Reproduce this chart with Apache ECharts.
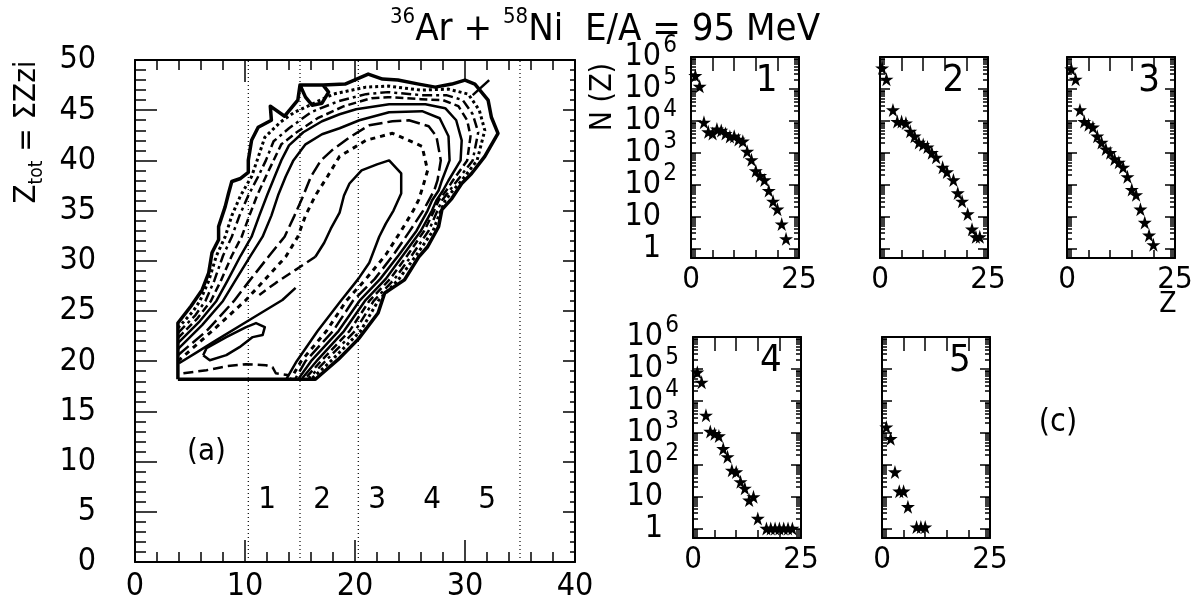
<!DOCTYPE html>
<html>
<head>
<meta charset="utf-8">
<script src="https://cdn.jsdelivr.net/npm/echarts@6.0.0/dist/echarts.min.js"></script>
<style>
  html, body { margin: 0; padding: 0; background: #fff; }
  #chart { width: 1200px; height: 606px; }
</style>
</head>
<body>
<div id="chart"></div>
<script>
const FONT = "'Liberation Sans Narrow','DejaVu Sans Condensed','Liberation Sans',sans-serif";

// ---- panel (a): contour lines of Z_tot vs Z ----
const contour1 = [[3.9,18.2],[3.9,23.8],[5.1,25.5],[6.1,27.1],[6.7,28.8],[7.0,30.8],[7.6,32.1],[7.6,33.4],[8.2,35.4],[8.5,36.7],[8.8,37.9],[9.6,38.2],[10.3,38.8],[10.3,40.0],[10.6,42.0],[11.2,43.3],[12.4,44.0],[12.3,45.4],[13.6,44.4],[14.8,46.0],[15.0,47.5],[17.1,47.5],[17.6,46.8],[17.0,45.7],[16.1,45.5],[15.5,46.3],[15.0,47.5],[17.1,47.5],[19.1,47.6],[21.2,48.6],[22.5,48.1],[23.9,48.0],[25.8,47.6],[27.3,47.3],[28.8,47.6],[30.0,48.0],[30.9,47.6],[32.1,46.0],[32.4,44.3],[33.0,42.7],[31.8,40.4],[30.6,38.7],[29.7,37.7],[28.8,36.2],[27.9,35.1],[27.6,33.4],[26.6,31.4],[25.8,30.4],[24.5,28.1],[22.7,26.8],[22.1,24.8],[20.3,22.2],[18.5,20.2],[16.4,18.2],[3.9,18.2]];
const contour1Spike = [[30.7,46.5],[32.2,48.0]];
const contour2 = [[3.9,23.3],[5.3,25.0],[5.9,26.0],[6.7,28.0],[7.4,30.5],[8.2,32.4],[8.8,34.5],[9.6,36.5],[10.6,38.4],[11.1,40.0],[11.8,42.3],[13.2,43.8],[14.5,44.8],[15.5,45.3],[18.0,46.6],[21.0,47.3],[23.0,47.4],[26.0,47.0],[28.5,47.1],[30.3,46.6],[31.3,45.0],[31.8,43.0],[31.1,40.0],[29.7,38.0],[28.9,37.0],[28.2,36.0],[27.8,35.0],[27.1,33.0],[25.6,30.6],[24.0,28.2],[22.1,26.0],[20.5,23.0],[17.8,20.0],[16.1,18.3]];
const contour3 = [[3.9,22.8],[5.5,24.6],[6.4,26.0],[7.2,28.0],[8.0,30.5],[8.8,32.4],[9.5,34.5],[10.3,36.5],[11.2,38.4],[11.9,40.0],[12.6,41.9],[14.0,43.2],[16.0,44.8],[18.5,45.9],[21.0,46.6],[23.0,46.8],[26.0,46.5],[28.3,46.5],[29.8,46.0],[30.7,44.6],[31.2,42.8],[30.7,40.0],[29.3,38.0],[28.6,37.0],[27.9,36.0],[27.5,35.0],[26.7,33.0],[25.2,30.6],[23.6,28.2],[21.7,26.0],[20.0,23.0],[17.3,20.0],[15.8,18.3]];
const contour4 = [[3.9,22.3],[5.7,24.3],[6.9,26.0],[7.8,28.0],[8.8,30.5],[9.7,32.4],[10.4,34.5],[11.1,36.5],[11.9,38.4],[12.6,40.0],[13.3,41.6],[14.7,42.8],[16.6,44.2],[19.0,45.4],[21.5,46.2],[23.0,46.3],[26.0,46.1],[28.0,46.0],[29.4,45.4],[30.2,44.0],[30.5,42.4],[30.2,40.0],[28.9,38.0],[28.3,37.0],[27.6,36.0],[27.2,35.0],[26.3,33.0],[24.8,30.6],[23.2,28.2],[21.3,26.0],[19.5,23.0],[16.9,20.0],[15.5,18.3]];
const contour5 = [[3.9,21.8],[5.9,24.0],[7.4,26.0],[8.4,28.0],[9.6,30.5],[10.6,32.4],[11.3,34.5],[12.0,36.5],[12.7,38.4],[13.3,40.0],[14.0,41.5],[15.3,42.8],[17.0,43.9],[18.6,44.6],[20.1,45.1],[23.1,45.6],[26.4,45.6],[28.2,45.2],[29.2,44.0],[29.7,42.0],[29.6,40.0],[28.5,38.0],[28.0,37.0],[27.4,36.0],[27.0,35.0],[26.0,33.0],[24.4,30.6],[22.8,28.2],[20.9,26.0],[19.0,23.0],[16.5,20.0],[15.2,18.3]];
const contour6 = [[3.9,21.2],[6.1,23.6],[8.0,26.0],[9.1,28.0],[10.5,30.5],[11.6,32.4],[12.4,34.5],[13.0,36.5],[13.7,38.4],[14.4,40.0],[15.5,41.6],[17.0,42.6],[18.6,43.2],[20.4,44.0],[23.1,44.8],[26.1,44.9],[27.7,44.2],[28.5,42.4],[28.6,40.0],[27.9,38.0],[27.6,37.0],[27.0,36.0],[26.6,35.0],[25.6,33.0],[24.0,30.6],[22.3,28.2],[20.4,26.0],[18.5,23.0],[16.0,20.0],[14.9,18.3]];
const contour7 = [[3.9,20.6],[6.5,23.0],[9.0,26.0],[10.4,28.0],[12.2,30.5],[13.6,32.4],[14.5,34.5],[15.3,36.5],[16.0,38.4],[16.9,40.0],[17.9,41.0],[19.5,42.3],[21.3,43.5],[23.4,43.9],[24.9,44.0],[26.7,43.4],[27.4,42.4],[27.8,40.0],[27.5,38.0],[27.2,37.0],[26.7,36.0],[26.2,35.0],[25.0,33.0],[23.5,30.6],[21.8,28.2],[19.8,26.0],[18.0,23.0],[15.5,20.0],[14.6,18.3]];
const contour8 = [[3.9,20.0],[7.0,23.0],[10.0,26.0],[11.7,28.0],[13.7,30.4],[14.8,32.4],[15.5,34.5],[16.4,36.5],[17.5,38.4],[18.6,40.4],[21.0,42.0],[23.4,42.7],[26.1,41.4],[26.6,39.0],[26.2,37.5],[25.8,36.1],[25.3,35.0],[24.2,33.0],[22.8,30.6],[21.0,28.2],[19.2,26.0],[17.4,23.0],[15.1,20.0],[14.2,18.3]];
const contour9 = [[16.4,30.4],[17.2,31.8],[17.8,33.2],[18.6,34.8],[19.0,36.5],[19.5,37.7],[20.6,39.0],[22.0,39.6],[23.1,40.0],[24.2,38.7],[24.2,36.7],[23.5,35.0],[22.8,33.7],[22.2,32.4],[21.3,29.8],[20.3,28.2],[18.7,26.0],[16.6,23.0],[14.7,20.0],[13.8,18.3]];
const contour9Tail = [[16.4,30.4],[14.6,29.1],[12.8,27.8],[11.3,26.6]];
const valleyLine = [[4.0,19.8],[5.5,20.8],[7.4,22.1],[10.4,24.1],[13.4,26.1],[14.6,27.3]];
const island = [[6.2,20.6],[6.5,21.3],[8.3,22.4],[10.1,23.4],[11.0,23.8],[11.8,23.4],[11.6,22.6],[10.7,22.4],[9.5,21.4],[8.3,20.6],[6.8,20.1],[6.2,20.6]];
const bottomDash = [[4.4,18.8],[6.5,19.1],[8.3,19.5],[10.1,19.7],[11.9,19.6],[12.5,19.4],[12.8,18.8],[14.0,18.6]];

const binEdges = [10.3, 15, 20.3, 35];
const binNames = ['1', '2', '3', '4', '5'];
const binNameX = [12, 17, 22, 27, 32];
const binNameY = 6.2;

// ---- panels (c): N(Z) per bin ----
const z1 = [1,2,3,4,5,6,7,8,9,10,11,12,13,14,15,16,17,18,19,20,21,22];
const n1 = [2.6e5,1.2e5,9e3,4.5e3,4e3,5.5e3,5e3,4e3,3.2e3,3.3e3,2.6e3,2.3e3,1.1e3,600,270,190,140,65,30,17,5.8,2];
const z2 = [0.5,1.5,3,4,5,6,7,8,9,10,11,12,13,14.5,15.5,17,18,19,20.3,21.3,22.2,23.1];
const n2 = [4.5e5,2e5,2.2e4,9.5e3,9.5e3,8.5e3,4.7e3,3.3e3,2.1e3,1.8e3,1.5e3,1e3,720,350,250,140,55,30,12,4,2.3,2.3];
const z3 = [1,2,3,4,5,6,7,8,9,10,11,12,13,14,15,16,17,18,19,20];
const n3 = [4.2e5,2e5,2.2e4,9.5e3,7.5e3,6.3e3,3.3e3,2.1e3,1.3e3,1e3,640,500,350,175,70,48,17,6.5,2.6,1.3];
const z4 = [1,2,3,4,5,6,7,8,9,10,11,12,13,14,15,17,18,19,20,21,22,23];
const n4 = [7.9e4,3.8e4,3.5e3,1.1e3,930,790,316,175,66,59,29,18,7.7,9.8,2.05,1,1,1,1,1,1,1];
const z5 = [1,2,3,4,5,6,8,9,10];
const n5 = [1.5e3,650,59,14.7,14.7,4.8,1.1,1.1,1.1];
const panelZ = [z1, z2, z3, z4, z5];
const panelN = [n1, n2, n3, n4, n5];
const panelNames = ['1', '2', '3', '4', '5'];
const panelNameX = [17.5, 17, 19, 18, 18];
const panelNameY = 1.7e5;
const decades = [1, 10, 100, 1e3, 1e4, 1e5, 1e6];
const decadeLabelPanels = [0, 3];

const STAR = 'path://M50,0 L61,35 L98,35 L68,57 L79,91 L50,70 L21,91 L32,57 L2,35 L39,35 Z';
const black = '#000';
const tickLine = { color: black, width: 1.5 };

const grids = [
  { left: 135, top: 60, width: 440, height: 502 },
  { left: 691, top: 57, width: 108, height: 201 },
  { left: 880, top: 57, width: 108, height: 201 },
  { left: 1067, top: 57, width: 108, height: 201 },
  { left: 693, top: 337, width: 108, height: 201 },
  { left: 882, top: 337, width: 108, height: 201 }
];

const xAxes = [];
const yAxes = [];

// main plot axes (bottom/top, left/right)
['bottom', 'top'].forEach(function (pos) {
  xAxes.push({
    gridIndex: 0, type: 'value', min: 0, max: 40, interval: 10, position: pos,
    axisLine: { onZero: false, lineStyle: { color: black, width: 2 } },
    axisTick: { inside: true, length: 22, lineStyle: tickLine },
    minorTick: { show: true, splitNumber: 5, length: 10, lineStyle: tickLine },
    axisLabel: { show: pos === 'bottom', color: black, fontSize: 32, fontFamily: FONT, margin: 9 },
    splitLine: { show: false }
  });
});
['left', 'right'].forEach(function (pos) {
  yAxes.push({
    gridIndex: 0, type: 'value', min: 0, max: 50, interval: 5, position: pos,
    axisLine: { onZero: false, lineStyle: { color: black, width: 2 } },
    axisTick: { inside: true, length: pos === 'left' ? 22 : 12, lineStyle: tickLine },
    minorTick: { show: true, splitNumber: 5, length: pos === 'left' ? 11 : 5, lineStyle: tickLine },
    axisLabel: { show: pos === 'left', color: black, fontSize: 32, fontFamily: FONT, margin: 39 },
    splitLine: { show: false }
  });
});

for (let i = 1; i <= 5; i++) {
  ['bottom', 'top'].forEach(function (pos) {
    xAxes.push({
      gridIndex: i, type: 'value', min: 0, max: 25, interval: 5, position: pos,
      axisLine: { onZero: false, lineStyle: { color: black, width: 2 } },
      axisTick: { inside: true, length: pos === 'bottom' ? 8 : 14, lineStyle: tickLine },
      axisLabel: {
        show: pos === 'bottom', color: black, fontSize: 31, fontFamily: FONT, margin: 6,
        showMinLabel: true, showMaxLabel: true,
        formatter: function (v) { return (v === 0 || v === 25) ? String(v) : ''; }
      },
      splitLine: { show: false }
    });
  });
  ['left', 'right'].forEach(function (pos) {
    yAxes.push({
      gridIndex: i, type: 'log', logBase: 10, min: 0.5, max: 1e6, position: pos,
      axisLine: { onZero: false, lineStyle: { color: black, width: 2 } },
      axisTick: { inside: true, length: 10, lineStyle: tickLine },
      minorTick: { show: true, splitNumber: 9, length: 5, lineStyle: tickLine },
      axisLabel: { show: false },
      splitLine: { show: false }
    });
  });
}

// "10" with a raised exponent; 1 and 10 keep the same right edge
function decadeLabel(p) {
  const e = Math.round(Math.log10(p.value[1]));
  if (e === 0) return '{d|1}{sp| }';
  if (e === 1) return '{d|10}{sp| }';
  return '{d|10}{sup|' + e + '}';
}

const series = [];
const plainText = { color: black, fontFamily: FONT, opacity: 1,
  textBorderWidth: 0, textBorderColor: 'transparent' };

// contour lines
const contourLines = [
  { data: contour1, width: 3.5, type: 'solid' },
  { data: contour1Spike, width: 2.5, type: 'solid' },
  { data: contour2, width: 3, type: [3, 3] },
  { data: contour3, width: 2.5, type: [10, 4, 3, 4] },
  { data: contour4, width: 2.5, type: [8, 4] },
  { data: contour5, width: 2.5, type: 'solid' },
  { data: contour6, width: 2.5, type: 'solid' },
  { data: contour7, width: 2.5, type: [14, 5] },
  { data: contour8, width: 3, type: [5, 5] },
  { data: contour9, width: 2.5, type: 'solid' },
  { data: contour9Tail, width: 2.5, type: [10, 5] },
  { data: valleyLine, width: 2.5, type: 'solid' },
  { data: island, width: 2.5, type: 'solid' },
  { data: bottomDash, width: 2.5, type: [10, 5] }
];
contourLines.forEach(function (c) {
  series.push({
    type: 'line', xAxisIndex: 0, yAxisIndex: 0, data: c.data,
    symbol: 'none', silent: true, animation: false,
    lineStyle: { color: black, width: c.width, type: c.type, join: 'round' }
  });
});

// dotted bin edges
binEdges.forEach(function (x) {
  series.push({
    type: 'line', xAxisIndex: 0, yAxisIndex: 0, data: [[x, 0], [x, 50]],
    symbol: 'none', silent: true, animation: false,
    lineStyle: { color: black, width: 1.2, type: [1, 3] }
  });
});

// bin numbers and (a)
series.push({
  type: 'scatter', xAxisIndex: 0, yAxisIndex: 0, symbolSize: 0, silent: true, animation: false,
  itemStyle: { color: black, opacity: 0 },
  data: binNames.map(function (n, k) { return [binNameX[k], binNameY, n]; }).concat([[6.5, 11, '(a)']]),
  label: Object.assign({ show: true, position: 'inside', fontSize: 31,
    formatter: function (p) { return p.data[2]; } }, plainText)
});

// N(Z) stars and panel numbers
for (let i = 0; i < 5; i++) {
  const ax = 2 * (i + 1);
  series.push({
    type: 'scatter', xAxisIndex: ax, yAxisIndex: ax,
    data: panelZ[i].map(function (z, k) { return [z, panelN[i][k]]; }),
    symbol: STAR, symbolSize: 14, itemStyle: { color: black, opacity: 1 }, silent: true, animation: false
  });
  series.push({
    type: 'scatter', xAxisIndex: ax, yAxisIndex: ax, symbolSize: 0,
    itemStyle: { color: black, opacity: 0 }, silent: true, animation: false,
    data: [[panelNameX[i], panelNameY, panelNames[i]]],
    label: Object.assign({ show: true, position: 'inside', fontSize: 38,
      formatter: function (p) { return p.data[2]; } }, plainText)
  });
}

// decade labels on the left of panels 1 and 4
decadeLabelPanels.forEach(function (i) {
  const ax = 2 * (i + 1);
  series.push({
    type: 'scatter', xAxisIndex: ax, yAxisIndex: ax, symbolSize: 0, clip: false,
    itemStyle: { color: black, opacity: 0 }, silent: true, animation: false,
    data: decades.map(function (d) { return [0, d]; }),
    label: Object.assign({ show: true, position: 'left', distance: 14, formatter: decadeLabel,
      rich: {
        d: { fontSize: 32, fontFamily: FONT, color: black, lineHeight: 46, verticalAlign: 'middle' },
        sup: { fontSize: 24, fontFamily: FONT, color: black, lineHeight: 24, width: 16, verticalAlign: 'top' },
        sp: { fontSize: 24, lineHeight: 24, width: 16 }
      } }, plainText)
  });
});

const chart = echarts.init(document.getElementById('chart'));
chart.setOption({
  backgroundColor: '#fff',
  animation: false,
  grid: grids,
  xAxis: xAxes,
  yAxis: yAxes,
  series: series,
  graphic: [
    {
      type: 'text', left: 390, top: 6, silent: true,
      style: {
        text: '{sup|36}Ar + {sup|58}Ni  E/A = 95 MeV', fill: black, fontSize: 38,
        fontFamily: FONT, lineHeight: 48,
        rich: { sup: { fontSize: 22, lineHeight: 22, verticalAlign: 'top', fontFamily: FONT } }
      }
    },
    {
      type: 'text', x: 27, y: 132, rotation: Math.PI / 2, silent: true,
      style: {
        text: 'Z{sub|tot} = ΣZzi', fill: black, fontSize: 31, fontFamily: FONT,
        align: 'center', verticalAlign: 'middle', lineHeight: 40,
        rich: { sub: { fontSize: 19, lineHeight: 19, verticalAlign: 'bottom', fontFamily: FONT } }
      }
    },
    {
      type: 'text', x: 603, y: 97, rotation: Math.PI / 2, silent: true,
      style: { text: 'N (Z)', fill: black, fontSize: 30, fontFamily: FONT, align: 'center', verticalAlign: 'middle' }
    },
    {
      type: 'text', x: 1058, y: 423, silent: true,
      style: { text: '(c)', fill: black, fontSize: 32, fontFamily: FONT, align: 'center', verticalAlign: 'middle' }
    },
    {
      type: 'text', x: 1168, y: 305, silent: true,
      style: { text: 'Z', fill: black, fontSize: 28, fontFamily: FONT, align: 'center', verticalAlign: 'middle' }
    }
  ]
});
</script>
</body>
</html>
